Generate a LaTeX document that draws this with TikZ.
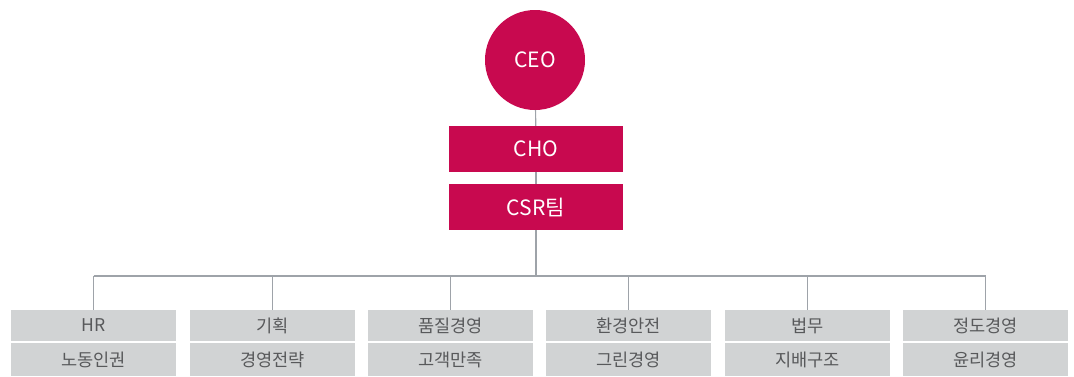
\documentclass[tikz,border=0pt]{standalone}
\usepackage{fontspec}
\setmainfont{Noto Sans CJK KR}
\usetikzlibrary{positioning}
\definecolor{crimson}{HTML}{C8094F}
\definecolor{pale}{HTML}{D1D3D4}
\definecolor{wire}{HTML}{9EA3A9}
\definecolor{ink}{HTML}{58595B}

\begin{document}
\begin{tikzpicture}[
  lead/.style={fill=crimson, text=white, font=\fontsize{18}{21}\selectfont, inner sep=0pt},
  unit/.style={fill=pale, text=ink, font=\fontsize{15}{18}\selectfont, minimum width=4.95cm, inner sep=0pt},
  link/.style={draw=wire, line width=1pt}]
  \useasboundingbox (0,0) rectangle (32.22,-11.28);

  \node[lead, circle, minimum size=3cm] (ceo) at (16.05,-1.8) {CEO};
  \node[lead, minimum width=5.22cm, minimum height=1.38cm] (cho) at (16.08,-4.47) {CHO};
  \node[lead, minimum width=5.22cm, minimum height=1.38cm] (csr) at (16.08,-6.21) {CSR팀};
  \coordinate (bus) at (16.08,-8.28);

  \foreach \i/\x/\top/\bot in {1/2.805/HR/노동인권, 2/8.175/기획/경영전략, 3/13.515/품질경영/고객만족,
                               4/18.855/환경안전/그린경영, 5/24.225/법무/지배구조, 6/29.565/정도경영/윤리경영}{
    \node[unit, minimum height=0.93cm] (t\i) at (\x,-9.765) {\top};
    \node[unit, minimum height=0.99cm] (b\i) at (\x,-10.785) {\bot};
    \draw[link] (bus -| t\i.north) -- (t\i.north);
  }

  \draw[link] (ceo) -- (cho);
  \draw[link] (cho) -- (csr);
  \draw[link] (csr) -- (bus);
  \draw[link] (bus -| t1.north) -- (bus -| t6.north);
\end{tikzpicture}
\end{document}
